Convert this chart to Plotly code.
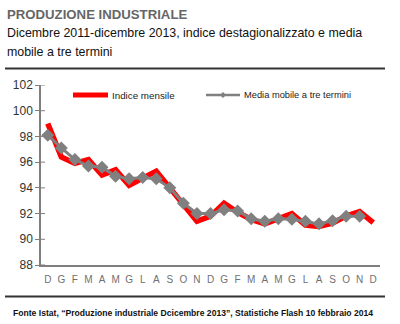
import plotly.graph_objects as go

months = ["D","G","F","M","A","M","G","L","A","S","O","N",
          "D","G","F","M","A","M","G","L","A","S","O","N","D"]
periods = ["dic 2011","gen 2012","feb 2012","mar 2012","apr 2012","mag 2012","giu 2012",
           "lug 2012","ago 2012","set 2012","ott 2012","nov 2012","dic 2012",
           "gen 2013","feb 2013","mar 2013","apr 2013","mag 2013","giu 2013",
           "lug 2013","ago 2013","set 2013","ott 2013","nov 2013","dic 2013"]
indice_mensile = [99.0, 96.4, 95.9, 96.2, 95.0, 95.4, 94.2, 94.7, 95.3, 94.0, 92.7, 91.4,
                  91.8, 92.8, 92.1, 91.55, 91.2, 91.6, 92.0, 91.1, 91.0, 91.25, 91.8, 92.15, 91.3]
media_mobile = [98.1, 97.1, 96.2, 95.7, 95.6, 94.9, 94.7, 94.8, 94.7, 94.0, 92.8, 92.0,
                92.0, 92.3, 92.2, 91.6, 91.4, 91.6, 91.55, 91.4, 91.2, 91.45, 91.8, 91.8, None]
y_ticks = [88, 90, 92, 94, 96, 98, 100, 102]
series_names = ["Indice mensile", "Media mobile a tre termini"]
RED, GREY = "#ff0000", "#808080"

W, H = 400, 324
L, R, T, B = 41, 380, 85, 265
FONT = "Liberation Sans, Arial"

def px(x):
    return (x - L) / (R - L)

def py(y):
    return (B - y) / (B - T)

fig = go.Figure()
fig.add_trace(go.Scatter(x=periods, y=indice_mensile, name=series_names[0], mode="lines",
                         line=dict(color=RED, width=5.5), showlegend=False))
fig.add_trace(go.Scatter(x=periods, y=media_mobile, name=series_names[1],
                         mode="lines+markers", showlegend=False,
                         line=dict(color=GREY, width=3),
                         marker=dict(symbol="diamond", size=10, color=GREY)))

fig.update_layout(
    width=W, height=H,
    margin=dict(l=L, r=W - R, t=T, b=H - B),
    paper_bgcolor="white", plot_bgcolor="white",
    showlegend=False,
    xaxis=dict(type="category", categoryorder="array", categoryarray=periods,
               tickmode="array", tickvals=periods, ticktext=months,
               range=[-0.5, len(periods) - 0.5],
               showline=True, linecolor="#7f7f7f", linewidth=1.5,
               showgrid=False, ticks="outside", ticklen=4, tickcolor="rgba(0,0,0,0)",
               zeroline=False,
               tickfont=dict(family=FONT, size=10, color="#707070")),
    yaxis=dict(range=[88, 102], tickvals=y_ticks,
               showline=True, linecolor="#7f7f7f", linewidth=1.5,
               showgrid=False, zeroline=False, ticks="outside", ticklen=4,
               tickcolor="#7f7f7f",
               tickfont=dict(family=FONT, size=12, color="#333")),
)

# manual legend
fig.add_shape(type="line", xref="paper", yref="paper", x0=px(73), x1=px(108),
              y0=py(95), y1=py(95), line=dict(color=RED, width=5))
fig.add_annotation(text=series_names[0], xref="paper", yref="paper", x=px(110), y=py(95),
                   xanchor="left", yanchor="middle", showarrow=False,
                   font=dict(family=FONT, size=9.8, color="#222"))
fig.add_shape(type="line", xref="paper", yref="paper", x0=px(206), x1=px(240),
              y0=py(95), y1=py(95), line=dict(color=GREY, width=2.5))
fig.add_shape(type="path", xref="paper", yref="paper",
              path=f"M {px(223-3)},{py(95)} L {px(223)},{py(95-3)} L {px(223+3)},{py(95)} L {px(223)},{py(95+3)} Z",
              fillcolor=GREY, line=dict(color=GREY, width=0))
fig.add_annotation(text=series_names[1], xref="paper", yref="paper", x=px(242), y=py(95),
                   xanchor="left", yanchor="middle", showarrow=False,
                   font=dict(family=FONT, size=9.3, color="#222"))

# title block
fig.add_annotation(text="<b>PRODUZIONE INDUSTRIALE</b>", xref="paper", yref="paper",
                   x=px(5), y=py(14), xanchor="left", yanchor="middle", showarrow=False,
                   font=dict(family=FONT, size=13.2, color="#666"))
fig.add_annotation(text="Dicembre 2011-dicembre 2013, indice destagionalizzato e media",
                   xref="paper", yref="paper", x=px(5), y=py(33), xanchor="left", yanchor="middle",
                   showarrow=False, font=dict(family=FONT, size=12.4, color="#111"))
fig.add_annotation(text="mobile a tre termini",
                   xref="paper", yref="paper", x=px(5), y=py(52), xanchor="left", yanchor="middle",
                   showarrow=False, font=dict(family=FONT, size=12.4, color="#111"))
fig.add_annotation(text="<b>Fonte Istat, “Produzione industriale Dcicembre 2013”, Statistiche Flash 10 febbraio 2014</b>",
                   xref="paper", yref="paper", x=px(11), y=py(313), xanchor="left", yanchor="middle",
                   showarrow=False, font=dict(family=FONT, size=8.6, color="#111"))

for yy in (68.5, 296.5):
    fig.add_shape(type="line", xref="paper", yref="paper", x0=px(5), x1=px(385),
                  y0=py(yy), y1=py(yy), line=dict(color="#333", width=2))

# crossing tick marks on y axis (inner half)
for t in y_ticks:
    fig.add_shape(type="line", xref="paper", yref="y", x0=0, x1=px(45), y0=t, y1=t,
                  line=dict(color="#7f7f7f", width=1))

fig.write_html("out.html")
